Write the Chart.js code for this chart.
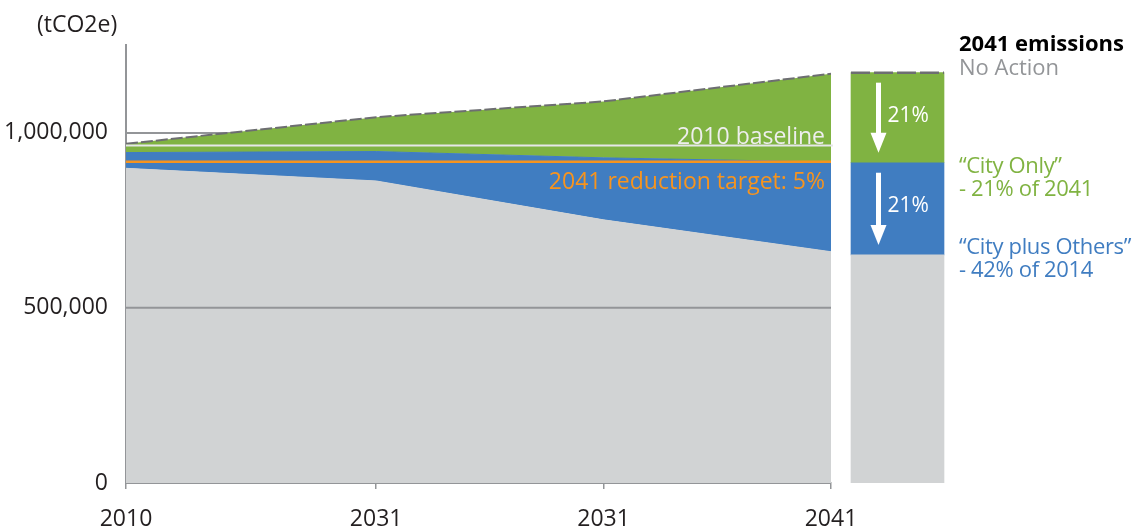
<!DOCTYPE html>
<html>
<head>
<meta charset="utf-8">
<script src="https://cdn.jsdelivr.net/npm/chart.js@4/dist/chart.umd.min.js"></script>
<style>
  html, body { margin: 0; padding: 0; background: #ffffff; }
  #wrap { position: relative; width: 1134px; height: 529px; overflow: hidden; font-family: 'Open Sans', sans-serif; }
  #main { position: absolute; left: 0; top: 0; }
  #bar { position: absolute; left: 840px; top: 0; }
  .t { position: absolute; white-space: nowrap; font-size: 22px; line-height: 24px; }
  .c { letter-spacing: -0.35px; }
</style>
</head>
<body>
<div id="wrap">
  <canvas id="main" width="1134" height="529"></canvas>
  <canvas id="bar" width="115" height="529"></canvas>
  <div class="t" style="left:37px; top:11px; color:#231f20; font-size:23px;">(tCO2e)</div>
  <div class="t" style="left:959px; top:30px; color:#000; font-weight:700;">2041 emissions</div>
  <div class="t" style="left:959px; top:54px; color:#939598;">No Action</div>
  <div class="t c" style="left:959px; top:152px; color:#80b342;">“City Only”</div>
  <div class="t c" style="left:959px; top:175px; color:#80b342;">- 21% of 2041</div>
  <div class="t c" style="left:959px; top:233px; color:#407dc1;">“City plus Others”</div>
  <div class="t c" style="left:959px; top:256px; color:#407dc1;">- 42% of 2014</div>
</div>
<script>
// ---- data ----
const xYears = [2010, 2021, 2031, 2041];
const xTickLabels = ['2010', '2031', '2031', '2041'];
const yTickValues = [0, 500000, 1000000];
const remainingEmissions = [898000, 862000, 751000, 660000];   // grey
const othersReduction   = [45000, 84000, 177000, 256000];      // blue
const cityReduction     = [25000, 98000, 161000, 252000];      // green
const baselineValue = 963000;
const targetValue = 917000;
const baselineLabel = '2010 baseline';
const targetLabel = '2041 reduction target: 5%';
const barCategories = ['2041'];
const barRemaining = [651000];
const barOthers = [263000];
const barCity = [257000];
const barPercentLabels = ['21%', '21%'];

// ---- styles ----
const GREY = '#d1d3d4', BLUE = '#407dc1', GREEN = '#80b342', ORANGE = '#f7941e', AXIS = '#939598';
const FONT = "'Open Sans', sans-serif";
Chart.defaults.font.family = FONT;

const toPts = arr => arr.map((v, i) => ({ x: xYears[i], y: v }));

const refPlugin = {
  id: 'refLines',
  afterDatasetsDraw(chart) {
    const { ctx, chartArea: ca, scales } = chart;
    const y = scales.y;
    const minGrey = Math.min(...remainingEmissions);
    ctx.save();
    // grid lines lying inside the grey area
    ctx.strokeStyle = AXIS; ctx.lineWidth = 2;
    yTickValues.filter(v => v > 0 && v < minGrey).forEach(v => {
      const py = y.getPixelForValue(v);
      ctx.beginPath(); ctx.moveTo(ca.left, py); ctx.lineTo(ca.right, py); ctx.stroke();
    });
    // baseline
    const by = y.getPixelForValue(baselineValue);
    ctx.strokeStyle = '#e6e7e8'; ctx.lineWidth = 2;
    ctx.beginPath(); ctx.moveTo(ca.left, by); ctx.lineTo(ca.right + 2, by); ctx.stroke();
    // target
    const ty = y.getPixelForValue(targetValue);
    ctx.strokeStyle = ORANGE; ctx.lineWidth = 2.5;
    ctx.beginPath(); ctx.moveTo(ca.left, ty); ctx.lineTo(ca.right, ty); ctx.stroke();
    // labels
    ctx.font = '23px ' + FONT;
    ctx.textAlign = 'right'; ctx.textBaseline = 'alphabetic';
    ctx.fillStyle = '#eeeeee';
    ctx.fillText(baselineLabel, ca.right - 6, by - 2);
    ctx.fillStyle = ORANGE;
    ctx.fillText(targetLabel, ca.right - 6, ty + 27);
    ctx.restore();
  }
};

new Chart(document.getElementById('main'), {
  type: 'line',
  data: {
    datasets: [
      { label: 'Remaining', data: toPts(remainingEmissions), stack: 'e', fill: 'origin',
        backgroundColor: GREY, borderColor: GREY, borderWidth: 1, pointRadius: 0, tension: 0 },
      { label: 'City plus Others', data: toPts(othersReduction), stack: 'e', fill: '-1',
        backgroundColor: BLUE, borderColor: BLUE, borderWidth: 1, pointRadius: 0, tension: 0 },
      { label: 'City Only', data: toPts(cityReduction), stack: 'e', fill: '-1',
        backgroundColor: GREEN, borderColor: '#6d6e71', borderWidth: 2, borderDash: [12, 3],
        pointRadius: 0, tension: 0 }
    ]
  },
  options: {
    responsive: false,
    animation: false,
    events: [],
    layout: { padding: { top: 45, right: 303, left: 0, bottom: 0 } },
    plugins: { legend: { display: false }, tooltip: { enabled: false } },
    scales: {
      x: {
        type: 'linear', min: xYears[0], max: xYears[xYears.length - 1],
        afterBuildTicks: s => { s.ticks = xYears.map(v => ({ value: v })); },
        afterFit: s => { s.height = 46; },
        ticks: { callback: (v, i) => xTickLabels[i], autoSkip: false, maxRotation: 0,
                 color: '#231f20', font: { size: 23 }, padding: 17 },
        grid: { drawOnChartArea: false, drawTicks: true, tickLength: 6, color: AXIS, lineWidth: 1.5 },
        border: { display: true, color: AXIS, width: 2 }
      },
      y: {
        stacked: true, min: 0, max: 1250000,
        afterBuildTicks: s => { s.ticks = yTickValues.map(v => ({ value: v })); },
        afterFit: s => { s.width = 126; },
        ticks: { callback: v => v.toLocaleString('en-US'), color: '#231f20',
                 font: { size: 23 }, padding: 18 },
        grid: { drawTicks: false, color: AXIS, lineWidth: 2 },
        border: { display: true, color: AXIS, width: 2 }
      }
    }
  },
  plugins: [refPlugin]
});

const barPlugin = {
  id: 'barDeco',
  afterDatasetsDraw(chart) {
    const { ctx } = chart;
    const segs = [chart.getDatasetMeta(2).data[0], chart.getDatasetMeta(1).data[0]];
    ctx.save();
    // dashed top
    const top = segs[0];
    ctx.strokeStyle = '#6d6e71'; ctx.lineWidth = 2.5; ctx.setLineDash([19, 4]);
    ctx.beginPath(); ctx.moveTo(top.x - top.width / 2, top.y); ctx.lineTo(top.x + top.width / 2, top.y); ctx.stroke();
    ctx.setLineDash([]);
    // arrows + labels
    segs.forEach((el, i) => {
      const t = Math.min(el.y, el.base), b = Math.max(el.y, el.base);
      const ax = el.x - 19;
      ctx.fillStyle = '#ffffff';
      ctx.fillRect(ax - 2.5, t + 10, 5, (b - 30) - (t + 10) + 1);
      ctx.beginPath();
      ctx.moveTo(ax - 8, b - 30); ctx.lineTo(ax + 8, b - 30); ctx.lineTo(ax, b - 10); ctx.closePath();
      ctx.fill();
      ctx.font = '21px ' + FONT;
      ctx.textAlign = 'left'; ctx.textBaseline = 'middle';
      ctx.fillText(barPercentLabels[i], el.x - 10, t + 43);
    });
    ctx.restore();
  }
};

new Chart(document.getElementById('bar'), {
  type: 'bar',
  data: {
    labels: barCategories,
    datasets: [
      { data: barRemaining, backgroundColor: GREY, borderWidth: 0 },
      { data: barOthers, backgroundColor: BLUE, borderWidth: 0 },
      { data: barCity, backgroundColor: GREEN, borderWidth: 0 }
    ]
  },
  options: {
    responsive: false,
    animation: false,
    events: [],
    layout: { padding: { top: 45, bottom: 46, left: 0, right: 0 } },
    plugins: { legend: { display: false }, tooltip: { enabled: false } },
    datasets: { bar: { barThickness: 93 } },
    scales: {
      x: { stacked: true, display: false },
      y: { stacked: true, display: false, min: 0, max: 1250000 }
    }
  },
  plugins: [barPlugin]
});
</script>
</body>
</html>
